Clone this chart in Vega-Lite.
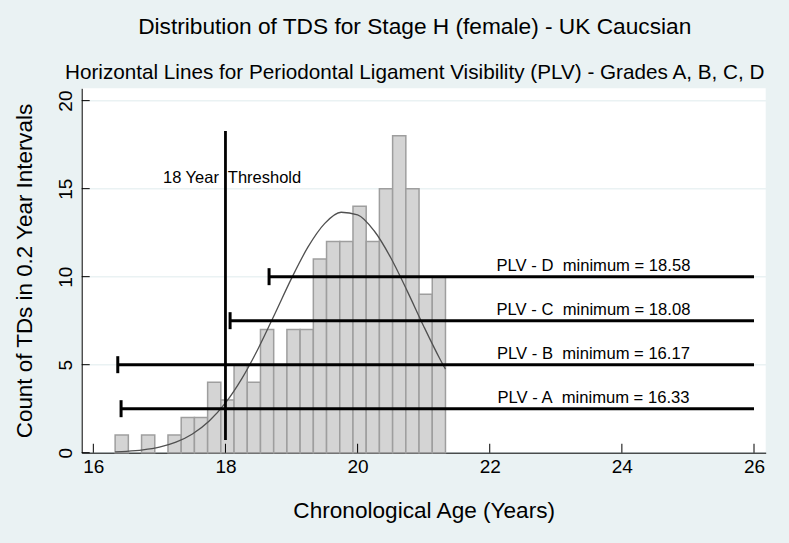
{
  "$schema": "https://vega.github.io/schema/vega-lite/v6.json",
  "width": 684,
  "height": 364.4,
  "autosize": "none",
  "padding": {"left": 81.7, "top": 88.3, "right": 23.3, "bottom": 90.3},
  "background": "#EAF2F3",
  "config": {
    "font": "Liberation Sans",
    "view": {"fill": "white", "stroke": null},
    "axis": {"labelColor": "black", "titleColor": "black", "titleFontWeight": "normal", "domainColor": "black", "tickColor": "black", "labelFont": "Liberation Sans", "titleFont": "Liberation Sans"}
  },
  "title": {
    "text": "Distribution of TDS for Stage H (female) - UK Caucsian",
    "subtitle": "Horizontal Lines for Periodontal Ligament Visibility (PLV) - Grades A, B, C, D",
    "fontSize": 22.7,
    "fontWeight": "normal",
    "subtitleFontSize": 20.7,
    "color": "black",
    "subtitleColor": "black",
    "font": "Liberation Sans",
    "subtitleFont": "Liberation Sans",
    "anchor": "middle",
    "frame": "group",
    "offset": 6,
    "subtitlePadding": 24,
    "dx": -9
  },
  "datasets": {
    "bins": [
      {"bin_start": 16.33, "bin_end": 16.53, "count": 1},
      {"bin_start": 16.73, "bin_end": 16.93, "count": 1},
      {"bin_start": 17.13, "bin_end": 17.33, "count": 1},
      {"bin_start": 17.33, "bin_end": 17.53, "count": 2},
      {"bin_start": 17.53, "bin_end": 17.73, "count": 2},
      {"bin_start": 17.73, "bin_end": 17.93, "count": 4},
      {"bin_start": 17.93, "bin_end": 18.13, "count": 3},
      {"bin_start": 18.13, "bin_end": 18.33, "count": 5},
      {"bin_start": 18.33, "bin_end": 18.53, "count": 4},
      {"bin_start": 18.53, "bin_end": 18.73, "count": 7},
      {"bin_start": 18.73, "bin_end": 18.93, "count": 5},
      {"bin_start": 18.93, "bin_end": 19.13, "count": 7},
      {"bin_start": 19.13, "bin_end": 19.33, "count": 7},
      {"bin_start": 19.33, "bin_end": 19.53, "count": 11},
      {"bin_start": 19.53, "bin_end": 19.73, "count": 12},
      {"bin_start": 19.73, "bin_end": 19.93, "count": 12},
      {"bin_start": 19.93, "bin_end": 20.13, "count": 14},
      {"bin_start": 20.13, "bin_end": 20.33, "count": 12},
      {"bin_start": 20.33, "bin_end": 20.53, "count": 15},
      {"bin_start": 20.53, "bin_end": 20.73, "count": 18},
      {"bin_start": 20.73, "bin_end": 20.93, "count": 15},
      {"bin_start": 20.93, "bin_end": 21.13, "count": 9},
      {"bin_start": 21.13, "bin_end": 21.33, "count": 10}
    ],
    "curve": [
      {"age": 16.33, "density": 0.043},
      {"age": 16.5, "density": 0.074},
      {"age": 16.75, "density": 0.157},
      {"age": 17.0, "density": 0.315},
      {"age": 17.25, "density": 0.595},
      {"age": 17.5, "density": 1.061},
      {"age": 17.75, "density": 1.782},
      {"age": 18.0, "density": 2.826},
      {"age": 18.25, "density": 4.224},
      {"age": 18.5, "density": 5.951},
      {"age": 18.75, "density": 7.906},
      {"age": 19.0, "density": 9.902},
      {"age": 19.25, "density": 11.69},
      {"age": 19.5, "density": 13.015},
      {"age": 19.75, "density": 13.659},
      {"age": 20.0, "density": 13.515},
      {"age": 20.25, "density": 12.607},
      {"age": 20.5, "density": 11.088},
      {"age": 20.75, "density": 9.194},
      {"age": 21.0, "density": 7.187},
      {"age": 21.25, "density": 5.296},
      {"age": 21.33, "density": 4.744}
    ],
    "plv": [
      {"grade": "D", "start": 18.66, "end": 26, "level": 10, "label": "PLV - D\u00a0 minimum = 18.58"},
      {"grade": "C", "start": 18.07, "end": 26, "level": 7.5, "label": "PLV - C\u00a0 minimum = 18.08"},
      {"grade": "B", "start": 16.37, "end": 26, "level": 5, "label": "PLV - B\u00a0 minimum = 16.17"},
      {"grade": "A", "start": 16.42, "end": 26, "level": 2.5, "label": "PLV - A\u00a0 minimum = 16.33"}
    ],
    "threshold": [
      {"age": 18, "from": 0.72, "to": 18.28, "label": "18 Year\u00a0 Threshold"}
    ],
    "xticks": [{"tick": 16}, {"tick": 18}, {"tick": 20}, {"tick": 22}, {"tick": 24}, {"tick": 26}],
    "yticks": [{"tick": 0}, {"tick": 5}, {"tick": 10}, {"tick": 15}, {"tick": 20}]
  },
  "layer": [
    {
      "data": {"name": "bins"},
      "mark": {"type": "bar", "fill": "#D4D4D4", "stroke": "#9E9E9E", "strokeWidth": 1.5},
      "encoding": {
        "x": {"field": "bin_start", "type": "quantitative", "scale": {"domain": [15.824, 26.177], "nice": false, "zero": false},
          "axis": {"values": [16, 18, 20, 22, 24, 26], "format": "d", "grid": false, "ticks": false, "labelFontSize": 19, "labelPadding": 5, "title": "Chronological Age (Years)", "titleFontSize": 22.6, "titlePadding": 23, "labelFlush": false}},
        "x2": {"field": "bin_end"},
        "y": {"field": "count", "type": "quantitative", "scale": {"domain": [0, 20.7], "nice": false},
          "axis": {"values": [0, 5, 10, 15, 20], "format": "d", "grid": true, "gridColor": "#EAF2F3", "gridWidth": 1.5, "ticks": false, "labelAngle": -90, "labelFontSize": 19, "labelPadding": 6, "title": "Count of TDs in 0.2 Year Intervals", "titleFontSize": 22.4, "titlePadding": 20, "labelFlush": false}},
        "y2": {"datum": 0}
      }
    },
    {
      "data": {"name": "curve"},
      "mark": {"type": "line", "interpolate": "monotone", "color": "#505050", "strokeWidth": 1.3},
      "encoding": {
        "x": {"field": "age", "type": "quantitative", "title": "Chronological Age (Years)"},
        "y": {"field": "density", "type": "quantitative", "title": "Count of TDs in 0.2 Year Intervals"}
      }
    },
    {
      "data": {"name": "xticks"},
      "mark": {"type": "tick", "orient": "vertical", "color": "black", "size": 9, "thickness": 1, "yOffset": -4.5, "opacity": 1},
      "encoding": {
        "x": {"field": "tick", "type": "quantitative", "title": "Chronological Age (Years)"},
        "y": {"datum": 0, "type": "quantitative"}
      }
    },
    {
      "data": {"name": "yticks"},
      "mark": {"type": "tick", "orient": "horizontal", "color": "black", "size": 8, "thickness": 1, "xOffset": 4, "opacity": 1},
      "encoding": {
        "y": {"field": "tick", "type": "quantitative", "title": "Count of TDs in 0.2 Year Intervals"},
        "x": {"datum": 15.824, "type": "quantitative"}
      }
    },
    {
      "data": {"name": "plv"},
      "mark": {"type": "rule", "color": "black", "strokeWidth": 3},
      "encoding": {
        "x": {"field": "start", "type": "quantitative", "title": "Chronological Age (Years)"},
        "x2": {"field": "end"},
        "y": {"field": "level", "type": "quantitative", "title": "Count of TDs in 0.2 Year Intervals"}
      }
    },
    {
      "data": {"name": "plv"},
      "mark": {"type": "tick", "orient": "vertical", "color": "black", "size": 17, "thickness": 3, "opacity": 1},
      "encoding": {
        "x": {"field": "start", "type": "quantitative", "title": "Chronological Age (Years)"},
        "y": {"field": "level", "type": "quantitative", "title": "Count of TDs in 0.2 Year Intervals"}
      }
    },
    {
      "data": {"name": "plv"},
      "mark": {"type": "text", "fontSize": 16.6, "dy": -10.5, "baseline": "middle", "align": "center", "color": "black"},
      "encoding": {
        "x": {"datum": 23.57, "type": "quantitative"},
        "y": {"field": "level", "type": "quantitative", "title": "Count of TDs in 0.2 Year Intervals"},
        "text": {"field": "label"}
      }
    },
    {
      "data": {"name": "threshold"},
      "mark": {"type": "rule", "color": "black", "strokeWidth": 2.8},
      "encoding": {
        "x": {"field": "age", "type": "quantitative", "title": "Chronological Age (Years)"},
        "y": {"field": "from", "type": "quantitative", "title": "Count of TDs in 0.2 Year Intervals"},
        "y2": {"field": "to"}
      }
    },
    {
      "data": {"name": "threshold"},
      "mark": {"type": "text", "fontSize": 16.5, "baseline": "middle", "align": "center", "color": "black"},
      "encoding": {
        "x": {"datum": 18.1, "type": "quantitative"},
        "y": {"datum": 15.59, "type": "quantitative"},
        "text": {"field": "label"}
      }
    }
  ]
}
